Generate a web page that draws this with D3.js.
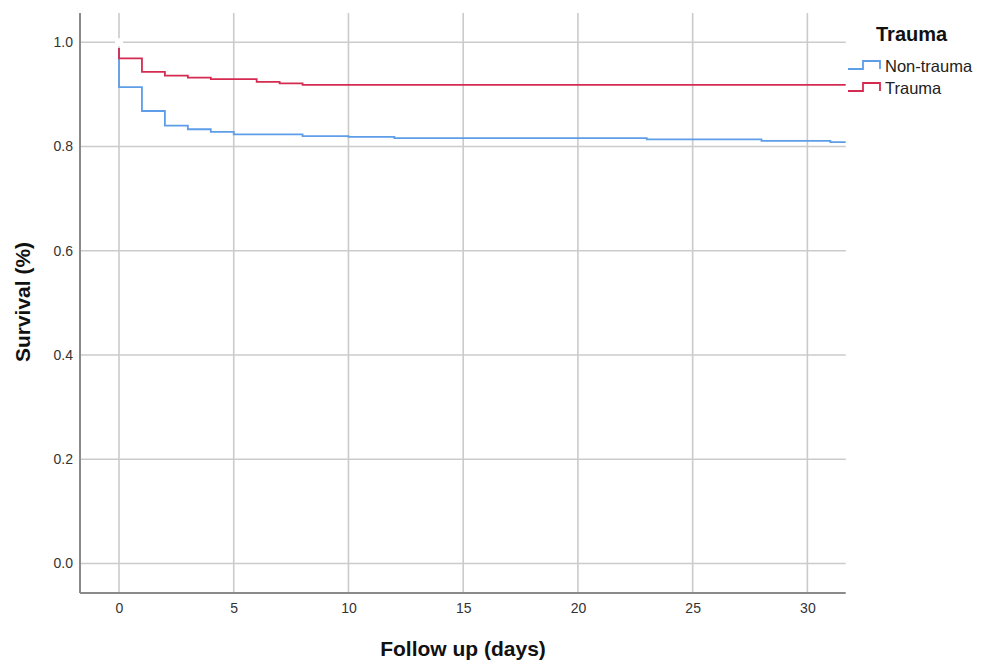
<!DOCTYPE html>
<html lang="en">
<head>
  <meta charset="UTF-8">
  <title>Survival</title>
  <script type="text/javascript" src="https://d3js.org/d3.v7.min.js"></script>
  <style>
    body{ margin:0; background:#fff; }
    svg{ font-family:"Liberation Sans", Arial, sans-serif; }
    .grid line{ stroke:#cbcbcb; stroke-width:1.6; }
    .axis path{ stroke:#8a8a8a; stroke-width:2; }
    .axis text{ fill:#333; font-size:14px; }
    .curve{ fill:none; stroke-width:1.8; }
  </style>
</head>
<body>
  <svg></svg>
  <script type="text/javascript">

  var xTicks = [0, 5, 10, 15, 20, 25, 30],
    yTicks = [0.0, 0.2, 0.4, 0.6, 0.8, 1.0],
    groups = ["Non-trauma", "Trauma"],
    colors = ["#5e9de8", "#d62b51"],
    // [day, survival] at each step
    nonTrauma = [[0, 0.989], [0, 0.914], [1, 0.868], [2, 0.840], [3, 0.833], [4, 0.828],
      [5, 0.823], [8, 0.820], [10, 0.8185], [12, 0.816], [23, 0.8134], [28, 0.8108], [31, 0.8082]],
    trauma = [[0, 0.989], [0, 0.969], [1, 0.943], [2, 0.936], [3, 0.932], [4, 0.929],
      [6, 0.924], [7, 0.921], [8, 0.918]];

  var W = 989, H = 662,
    L = 80, R = 845.7, T = 13, B = 593,
    SVG = d3.select("svg").attr("width", W).attr("height", H);

  var x = d3.scaleLinear().domain([-1.7, 31.67]).range([L, R]),
    y = d3.scaleLinear().domain([-0.0566, 1.056]).range([B, T]);

  // grid
  var grid = SVG.append("g").attr("class", "grid");
  grid.selectAll("line.v").data(xTicks).enter().append("line").attr("class", "v")
    .attr("x1", d => x(d)).attr("x2", d => x(d)).attr("y1", T).attr("y2", B);
  grid.selectAll("line.h").data(yTicks).enter().append("line").attr("class", "h")
    .attr("x1", L).attr("x2", R).attr("y1", d => y(d)).attr("y2", d => y(d));

  // axes
  SVG.append("g").attr("class", "axis")
    .attr("transform", "translate(0," + B + ")")
    .call(d3.axisBottom(x).tickValues(xTicks).tickSize(0).tickPadding(10).tickFormat(d3.format("d")))
    .call(g => g.select(".domain").attr("d", "M" + L + ",0H" + R));
  SVG.append("g").attr("class", "axis")
    .attr("transform", "translate(" + L + ",0)")
    .call(d3.axisLeft(y).tickValues(yTicks).tickSize(0).tickPadding(7).tickFormat(d3.format(".1f")))
    .call(g => g.select(".domain").attr("d", "M0," + T + "V" + B));
  SVG.selectAll(".axis .tick line").remove();

  // censor gap at origin
  SVG.append("rect").attr("x", x(0) - 4).attr("y", y(1) - 4).attr("width", 8).attr("height", 8).attr("fill", "#fff");

  // curves
  var line = d3.line().x(d => x(d[0])).y(d => y(d[1])).curve(d3.curveStepAfter);
  var series = [nonTrauma, trauma];
  series.forEach(function(s, i){
    var pts = s.concat([[x.domain()[1], s[s.length - 1][1]]]);
    SVG.append("path").attr("class", "curve").attr("d", line(pts)).attr("stroke", colors[i]);
  });

  // axis titles
  SVG.append("text").attr("x", 463).attr("y", 656).attr("text-anchor", "middle")
    .style("font-weight", "bold").style("font-size", "21px").attr("fill", "#111").text("Follow up (days)");
  SVG.append("text").attr("transform", "translate(30,302)rotate(-90)")
    .attr("text-anchor", "middle").style("font-weight", "bold").style("font-size", "21px")
    .attr("fill", "#111").text("Survival (%)");

  // legend
  SVG.append("text").attr("x", 876).attr("y", 41).style("font-weight", "bold")
    .style("font-size", "20px").attr("fill", "#111").text("Trauma");
  groups.forEach(function(g, i){
    var cy = 66 + i * 22;
    SVG.append("path").attr("class", "curve").attr("stroke", colors[i])
      .attr("d", "M848," + (cy + 3) + "H863V" + (cy - 5) + "H880V" + (cy + 3));
    SVG.append("text").attr("x", 885).attr("y", cy + 6).style("font-size", "16.5px")
      .attr("fill", "#222").text(g);
  });

  </script>
</body>
</html>
